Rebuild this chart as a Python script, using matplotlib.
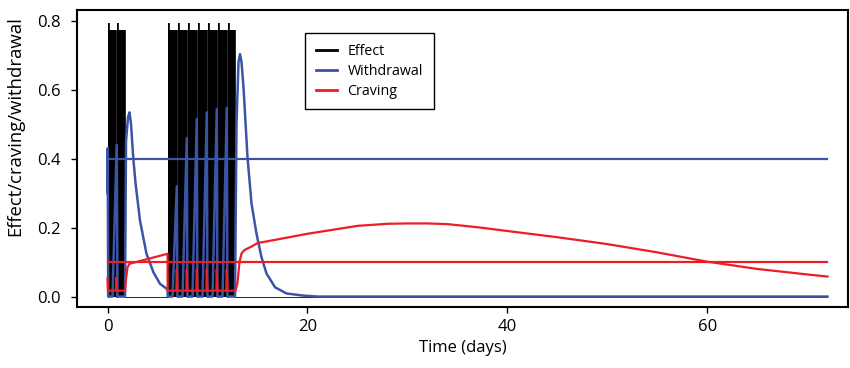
import matplotlib
matplotlib.use("Agg")
import matplotlib.pyplot as plt

plt.rcParams['font.family'] = ['Open Sans', 'DejaVu Sans']

# effect blocks: dose start / end (days), peak and plateau level
dose_on = [0.0, 0.95, 6.0, 7.0, 8.0, 9.0, 10.0, 11.0, 12.0]
dose_off = [0.86, 1.75, 6.9, 7.9, 8.9, 9.9, 10.9, 11.9, 12.8]
effect_peak = 0.792
effect_level = 0.772
t_end = 72.0

withdrawal_t = [0.0, 0.02, 0.07, 0.5, 0.92, 1.0, 1.75, 1.85, 2.05, 2.2, 2.35, 2.58, 2.8,
                3.25, 3.9, 4.6, 5.25, 5.9, 6.0, 6.03,
                6.5, 6.93, 6.99, 7.5, 7.93, 7.99, 8.5, 8.93, 8.99, 9.5, 9.93, 9.99,
                10.5, 10.93, 10.99, 11.5, 11.93, 11.99,
                12.75, 12.9, 13.1, 13.25, 13.4, 13.6, 14.0, 14.4, 14.9, 15.4, 15.9,
                16.75, 17.9, 19.5, 21.0, 72.0]
withdrawal_v = [0.30, 0.43, 0.0, 0.0, 0.44, 0.0, 0.0, 0.45, 0.52, 0.534, 0.50, 0.40, 0.33,
                0.22, 0.124, 0.07, 0.037, 0.023, 0.02, 0.0,
                0.0, 0.32, 0.0, 0.0, 0.46, 0.0, 0.0, 0.515, 0.0, 0.0, 0.534, 0.0,
                0.0, 0.544, 0.0, 0.0, 0.547, 0.0,
                0.0, 0.50, 0.68, 0.703, 0.68, 0.607, 0.404, 0.27, 0.182, 0.114, 0.067,
                0.027, 0.009, 0.003, 0.0, 0.0]

craving_t = [0.0, 0.04, 0.84, 0.89, 0.96, 1.75, 1.85, 2.0, 2.2, 6.0, 6.02,
             6.88, 6.93, 7.0, 7.88, 7.93, 8.0, 8.88, 8.93, 9.0, 9.88, 9.93, 10.0,
             10.88, 10.93, 11.0, 11.88, 11.93, 12.0,
             12.8, 13.0, 13.2, 13.4, 13.7, 14.4, 15.0, 20.0, 25.0, 28.0, 30.0, 32.0,
             34.0, 37.0, 40.0, 45.0, 50.0, 55.0, 60.0, 65.0, 70.0, 72.0]
craving_v = [0.052, 0.017, 0.017, 0.055, 0.017, 0.017, 0.05, 0.085, 0.095, 0.124, 0.017,
             0.017, 0.08, 0.017, 0.017, 0.08, 0.017, 0.017, 0.08, 0.017, 0.017, 0.08, 0.017,
             0.017, 0.08, 0.017, 0.017, 0.08, 0.017,
             0.017, 0.04, 0.10, 0.125, 0.135, 0.145, 0.155, 0.182, 0.205, 0.211, 0.212, 0.212,
             0.210, 0.201, 0.19, 0.172, 0.152, 0.128, 0.101, 0.080, 0.064, 0.058]

withdrawal_threshold = 0.4
craving_threshold = 0.1

BLUE = '#3a55a6'
RED = '#ee1c25'

# step path for the effect blocks
effect_t, effect_v = [0.0], [0.0]
for on, off in zip(dose_on, dose_off):
    effect_t += [on, on, on + 0.12, on + 0.12, off, off]
    effect_v += [0, effect_peak, effect_peak, effect_level, effect_level, 0]
effect_t.append(t_end)
effect_v.append(0)

fig = plt.figure(figsize=(8.5, 3.68), dpi=100)
ax = fig.add_axes([0.0906, 0.166, 0.907, 0.807])

ax.fill_between(effect_t, effect_v, 0, color='black', lw=0)
ax.plot(effect_t, effect_v, color='black', lw=0.6)
ax.plot(withdrawal_t, withdrawal_v, color=BLUE, lw=1.8)
ax.plot(craving_t, craving_v, color=RED, lw=1.6)
ax.plot([0, t_end], [withdrawal_threshold] * 2, color=BLUE, lw=1.6)
ax.plot([0, t_end], [craving_threshold] * 2, color=RED, lw=1.6)

# legend handles
ax.plot([], [], color='black', lw=2, label='Effect')
ax.plot([], [], color=BLUE, lw=2, label='Withdrawal')
ax.plot([], [], color=RED, lw=2, label='Craving')

ax.set_xlim(-3.05, 74.05)
ax.set_ylim(-0.030, 0.831)
ax.set_xticks([0, 20, 40, 60])
ax.set_yticks([0.0, 0.2, 0.4, 0.6, 0.8])
ax.set_yticklabels(['0.0', '0.2', '0.4', '0.6', '0.8'])
ax.tick_params(axis='both', direction='out', labelsize=12, width=1, length=4)
ax.tick_params(axis='y', pad=8)
ax.tick_params(axis='x', pad=5)
for s in ax.spines.values():
    s.set_linewidth(1.5)

ax.set_xlabel('Time (days)', fontsize=12, labelpad=3)
ax.set_ylabel('Effect/craving/withdrawal', fontsize=13.3)
ax.yaxis.set_label_coords(-0.068, 0.61)

leg = ax.legend(loc='upper left', bbox_to_anchor=(0.296, 0.923), fontsize=10.3,
                handlelength=1.5, handletextpad=0.7, borderpad=0.75, borderaxespad=0,
                labelspacing=0.35, fancybox=False, framealpha=1)
leg.get_frame().set_edgecolor('black')
leg.get_frame().set_linewidth(1.0)

fig.savefig('out.png', dpi=100)
